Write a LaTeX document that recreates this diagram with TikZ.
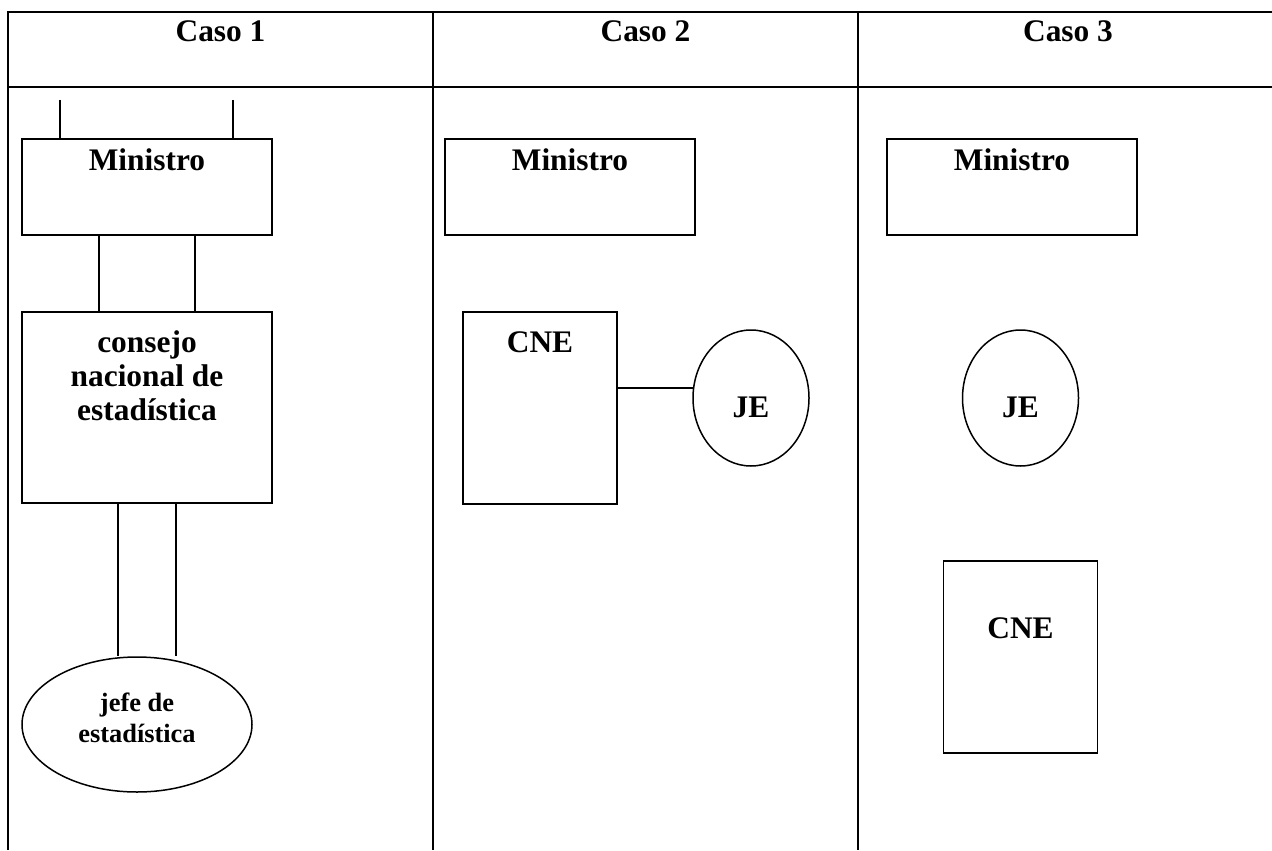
\documentclass[tikz,border=0pt]{standalone}
\usepackage{fontspec}
\setmainfont{Liberation Serif}
\usetikzlibrary{shapes.geometric}

\begin{document}
\begin{tikzpicture}[
        x=0.5pt, y=-0.5pt,
        every node/.style={font=\bfseries\fontsize{15.7}{17}\selectfont},
        grid/.style={line width=1.4pt},
        box/.style={draw,rectangle,line width=0.75pt,inner sep=0pt},
        oval/.style={draw,ellipse,line width=0.75pt,inner sep=0pt},
        ministro/.style={box,minimum width=125pt,minimum height=48pt,
            label={[anchor=base,yshift=-16pt]north:Ministro}},
        cne/.style={box,minimum width=77pt,minimum height=96pt},
        je/.style={oval,minimum width=58pt,minimum height=68pt,
            label={[anchor=base,yshift=-44pt]north:JE}},
        link/.style={line width=0.75pt},
        ]
    \useasboundingbox (0,0) rectangle (1272,850);

    % table
    \draw[grid] (8,850) -- (8,12) -- (1272,12);
    \draw[grid] (8,87) -- (1272,87);
    \draw[grid] (433,12) -- (433,850);
    \draw[grid] (858,12) -- (858,850);
    \node (h1) [anchor=base] at (220.5,42) {Caso 1};
    \node (h2) [anchor=base] at (645.5,42) {Caso 2};
    \node (h3) [anchor=base] at (1068,42) {Caso 3};

    % caso 1
    \node (mb1) [ministro] at (147,187) {};
    \node (cb1) [box, minimum width=125pt, minimum height=95.5pt,
        label={[anchor=base,yshift=-54.5pt,align=center]north:consejo\\nacional de\\estadística}]
        at (147,407.5) {};
    \node (je1) [oval, minimum width=115pt, minimum height=67.5pt,
        label={[anchor=base,yshift=-43pt,align=center,font=\bfseries\fontsize{13.2}{15.5}\selectfont]north:jefe de\\estadística}]
        at (137,724.5) {};
    \coordinate (s1) at (60,100);
    \coordinate (s2) at (233,100);
    \coordinate (d1) at ([xshift=-14.5pt]cb1.south);
    \coordinate (d2) at ([xshift=14.5pt]cb1.south);
    \draw[link] (s1) -- (s1 |- mb1.north);
    \draw[link] (s2) -- (s2 |- mb1.north);
    \draw[link] ([xshift=-24pt]mb1.south) -- ([xshift=-24pt]cb1.north);
    \draw[link] ([xshift=24pt]mb1.south) -- ([xshift=24pt]cb1.north);
    \draw[link] (d1) -- (d1 |- je1.north);
    \draw[link] (d2) -- (d2 |- je1.north);

    % caso 2
    \node (mb2) [ministro] at (570,187) {};
    \node (cne2) [cne, label={[anchor=base,yshift=-20.5pt]north:CNE}] at (540,408) {};
    \node (je2) [je] at (751,398) {};
    \draw[link] (cne2.east |- je2.170) -- (je2.170);

    % caso 3
    \node (mb3) [ministro] at (1012,187) {};
    \node (je3) [je] at (1020.5,398) {};
    \node (cne3) [cne, label={[anchor=base,yshift=-39pt]north:CNE}] at (1020.5,657) {};
\end{tikzpicture}
\end{document}
